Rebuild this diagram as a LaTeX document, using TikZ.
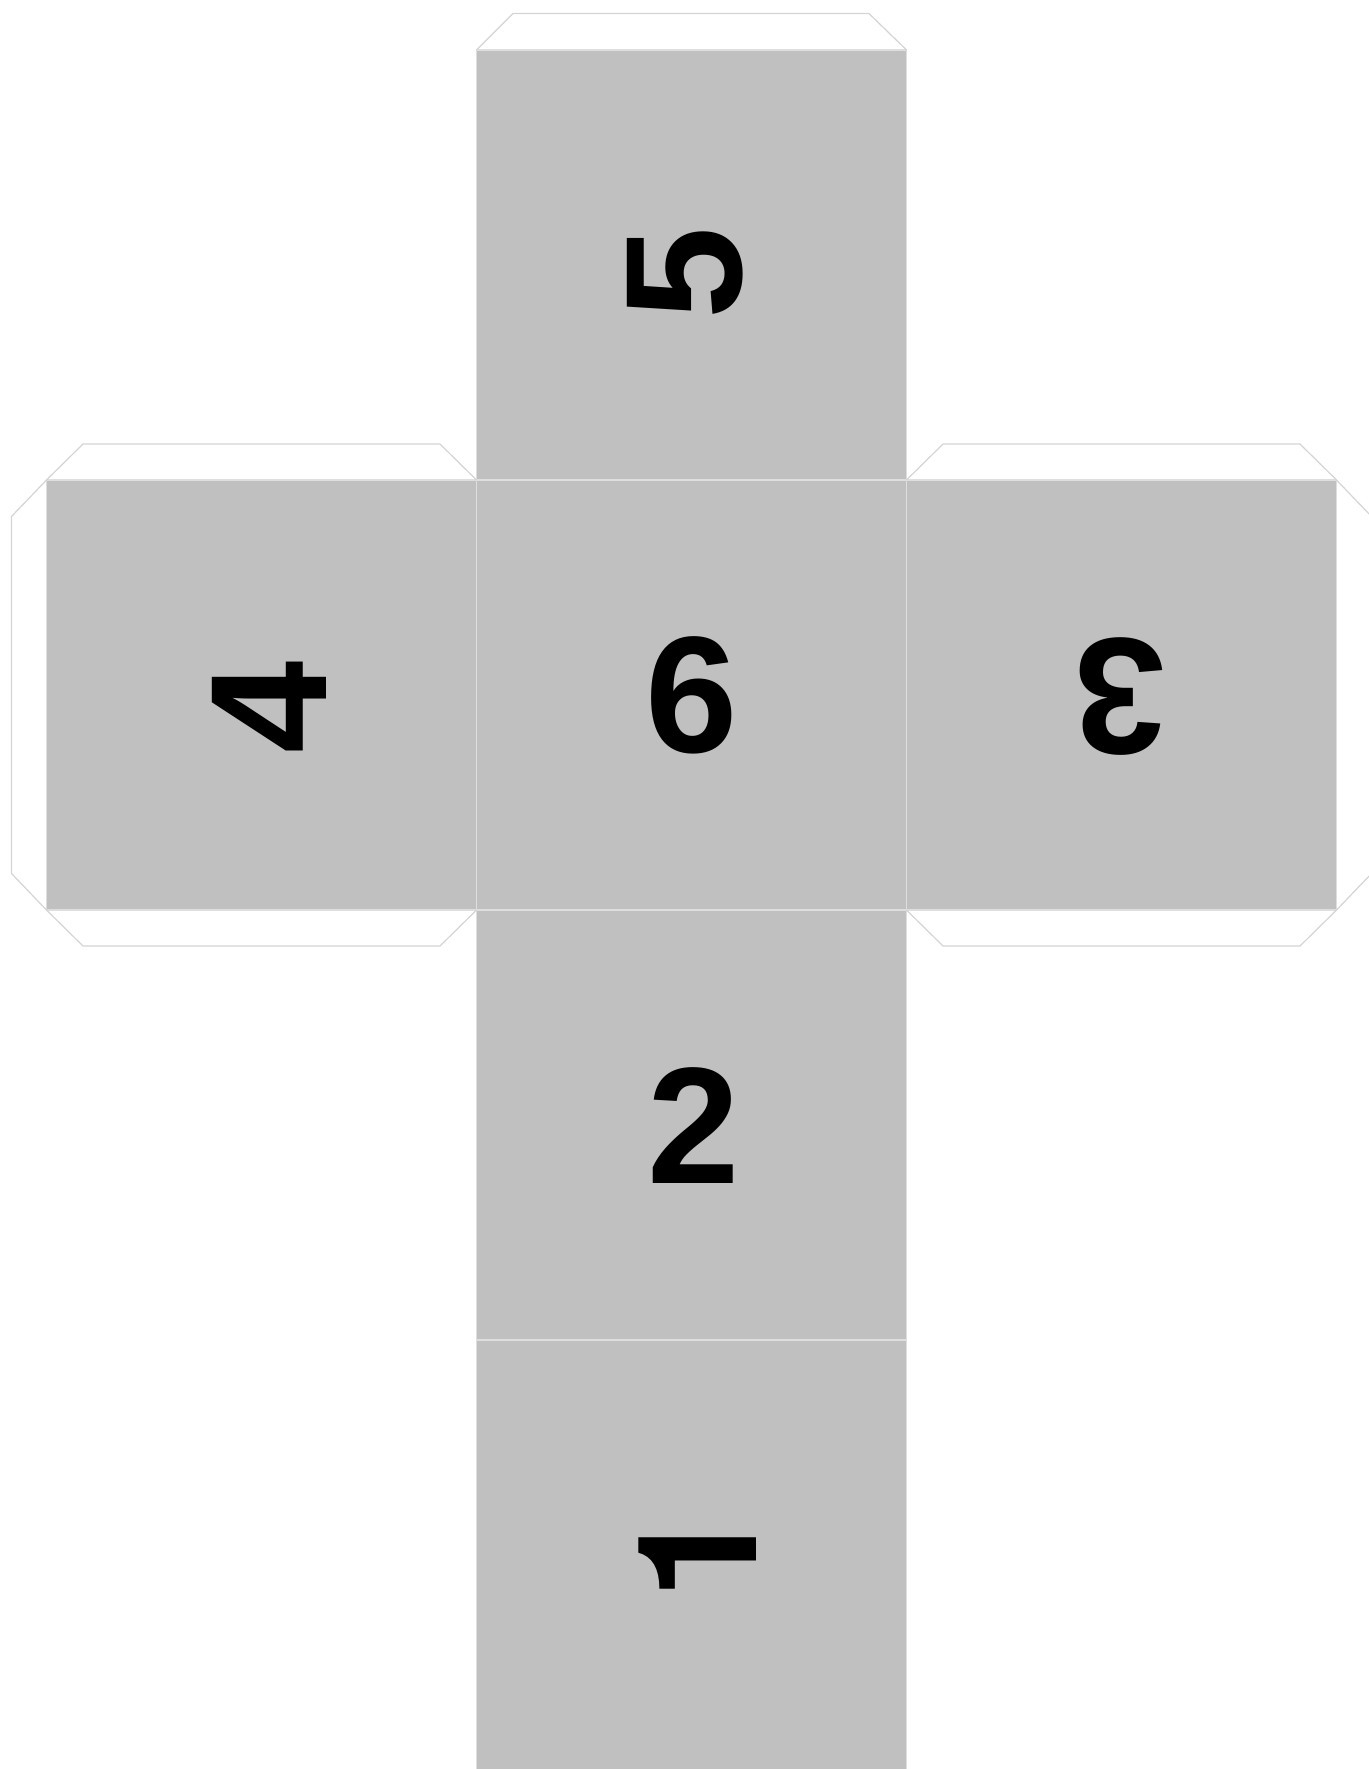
\documentclass[tikz,border=0pt]{standalone}
\usepackage{fontspec}
\setmainfont{Liberation Sans}
\newfontfamily\herosfont{TeX Gyre Heros}
\usetikzlibrary{positioning}
\definecolor{facegray}{RGB}{192,192,192}
\definecolor{edgegray}{RGB}{222,222,222}
\definecolor{flapgray}{RGB}{212,212,212}
\tikzset{
    face/.style={
        rectangle, draw=edgegray, fill=facegray, line width=0.6pt,
        minimum size=215pt, inner sep=0pt, outer sep=0pt
    },
    flap/.style={draw=flapgray, line width=0.6pt, line join=miter},
    pip/.style={font=\fontsize{83}{83}\selectfont\bfseries, inner sep=0pt},
}

\begin{document}
\begin{tikzpicture}[x=0.5pt, y=-0.5pt, node distance=0pt]
    \useasboundingbox (0,0) rectangle (1369,1769);
    % faces of the net
    \node[face] (f6) at (691.5,695) {};
    \node[face, above=of f6] (f5) {};
    \node[face, left=of f6] (f4) {};
    \node[face, right=of f6] (f3) {};
    \node[face, below=of f6] (f2) {};
    \node[face, below=of f2] (f1) {};
    % glue flaps
    \draw[flap] (f5.north west) -- ++(36.5,-36.5) -- ++(356,0) -- (f5.north east);
    \draw[flap] (f4.north west) -- ++(36.5,-36) -- ++(357,0) -- (f4.north east);
    \draw[flap] (f4.south west) -- ++(36.5,36) -- ++(357,0) -- (f4.south east);
    \draw[flap] (f4.north west) -- ++(-35,36.5) -- ++(0,357) -- (f4.south west);
    \draw[flap] (f3.north west) -- ++(36.5,-36) -- ++(357,0) -- (f3.north east);
    \draw[flap] (f3.south west) -- ++(36.5,36) -- ++(357,0) -- (f3.south east);
    \draw[flap] (f3.north east) -- ++(35,36.5) -- ++(0,357) -- (f3.south east);
    % numbers
    \node[pip, rotate=90] (n5) at ([shift={(-6.5,8)}]f5.center) {5};
    \node[pip] (n6) at (f6.center) {6};
    \node[pip, rotate=90] (n4) at ([shift={(8,12.5)}]f4.center) {4};
    \node[pip, rotate=180] (n3) at ([shift={(-1,2)}]f3.center) {3};
    \node[pip] (n2) at ([shift={(2.5,1)}]f2.center) {2};
    \node[pip, rotate=90] (n1) at ([shift={(6.5,-1)}]f1.center) {\herosfont 1};
\end{tikzpicture}
\end{document}
